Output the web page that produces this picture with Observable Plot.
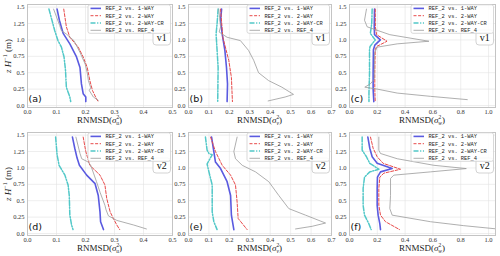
<!DOCTYPE html>
<html><head><meta charset="utf-8">
<script src="https://cdn.jsdelivr.net/npm/d3@7"></script>
<script src="https://cdn.jsdelivr.net/npm/@observablehq/plot@0.6"></script>
<style>
body{margin:0;background:#fff}
#wrap{position:relative;width:500px;height:256px;overflow:hidden;background:#fff}
#wrap svg{position:absolute}
</style></head><body><div id="wrap"></div>
<script>
// ---- labels ----
const seriesNames = ["REF_2 vs. 1-WAY","REF_2 vs. 2-WAY","REF_2 vs. 2-WAY-CR","REF_2 vs. REF_4"];
const panelLetters = ["(a)","(b)","(c)","(d)","(e)","(f)"];
const caseLabels = ["v1","v2"];
const xVarNames = ["u","v","w"];
const yTicks = [0,0.25,0.5,0.75,1.0,1.25,1.5];
const xTicksU = [0,0.1,0.2,0.3,0.4,0.5];
const xTicksV = [0,0.1,0.2,0.3,0.4,0.5,0.6,0.7];
const xTicksW = [0,0.2,0.4,0.6,0.8,1.0];

// ---- data: [RNMSD, z/H] ----
const a_1way = [[0.102,1.47],[0.110,1.30],[0.123,1.10],[0.146,0.94],[0.169,0.74],[0.181,0.58],[0.186,0.33],[0.192,0.18],[0.201,0.13],[0.201,0.06]];
const a_2way = [[0.125,1.47],[0.134,1.20],[0.146,1.04],[0.175,0.89],[0.192,0.74],[0.206,0.58],[0.215,0.38],[0.224,0.23],[0.238,0.10],[0.244,0.06]];
const a_cr   = [[0.074,1.47],[0.094,1.14],[0.105,0.99],[0.117,0.89],[0.126,0.74],[0.131,0.54],[0.134,0.28],[0.146,0.13],[0.149,0.06]];
const a_ref4 = [[0.090,1.47],[0.111,1.22],[0.117,1.14],[0.134,1.09],[0.160,0.99],[0.181,0.81],[0.199,0.63],[0.206,0.50],[0.210,0.38],[0.218,0.27],[0.213,0.23],[0.227,0.13],[0.244,0.08]];

const b_1way = [[0.162,1.47],[0.157,1.30],[0.165,1.09],[0.178,0.84],[0.186,0.58],[0.191,0.33],[0.189,0.06]];
const b_2way = [[0.157,1.47],[0.168,1.04],[0.197,0.69],[0.210,0.43],[0.215,0.06]];
const b_cr   = [[0.145,1.47],[0.140,1.25],[0.135,1.09],[0.140,0.84],[0.145,0.58],[0.143,0.06]];
const b_ref4 = [[0.148,1.47],[0.157,1.20],[0.150,1.12],[0.189,1.04],[0.254,0.99],[0.294,0.84],[0.319,0.69],[0.343,0.50],[0.392,0.38],[0.457,0.28],[0.514,0.17],[0.473,0.13],[0.390,0.07]];

const c_1way = [[0.180,1.47],[0.178,1.20],[0.180,1.08],[0.222,1.00],[0.182,0.92],[0.172,0.85],[0.170,0.50],[0.170,0.25],[0.175,0.06]];
const c_2way = [[0.185,1.47],[0.186,1.20],[0.195,1.08],[0.270,0.98],[0.195,0.90],[0.185,0.85],[0.182,0.50],[0.182,0.25],[0.185,0.06]];
const c_cr   = [[0.163,1.47],[0.160,1.25],[0.150,1.10],[0.185,1.00],[0.148,0.90],[0.144,0.85],[0.144,0.50],[0.140,0.20],[0.140,0.06]];
const c_ref4 = [[0.122,1.47],[0.108,1.30],[0.127,1.20],[0.290,1.08],[0.571,0.98],[0.343,0.94],[0.199,0.89],[0.180,0.80],[0.178,0.40],[0.150,0.33],[0.110,0.28],[0.200,0.25],[0.343,0.19],[0.583,0.14],[0.847,0.09]];

const d_1way = [[0.155,1.47],[0.163,1.30],[0.171,1.15],[0.179,1.04],[0.204,0.89],[0.233,0.76],[0.244,0.58],[0.250,0.33],[0.252,0.18],[0.262,0.06]];
const d_2way = [[0.192,1.47],[0.201,1.25],[0.215,1.04],[0.250,0.89],[0.267,0.74],[0.273,0.54],[0.285,0.33],[0.296,0.23],[0.308,0.13],[0.318,0.06]];
const d_cr   = [[0.097,1.47],[0.102,1.20],[0.109,1.04],[0.129,0.89],[0.140,0.74],[0.144,0.58],[0.146,0.28],[0.152,0.13],[0.157,0.06]];
const d_ref4 = [[0.167,1.47],[0.181,1.22],[0.187,1.14],[0.209,1.09],[0.218,1.04],[0.238,0.79],[0.250,0.63],[0.267,0.43],[0.271,0.36],[0.279,0.27],[0.308,0.20],[0.366,0.13],[0.410,0.07]];

const e_1way = [[0.113,1.47],[0.124,1.25],[0.132,1.09],[0.157,0.99],[0.189,0.79],[0.206,0.58],[0.210,0.28],[0.222,0.06]];
const e_2way = [[0.108,1.47],[0.132,1.25],[0.165,1.04],[0.206,0.89],[0.230,0.74],[0.238,0.48],[0.243,0.23],[0.287,0.06]];
const e_cr   = [[0.083,1.47],[0.091,1.27],[0.100,1.22],[0.116,1.20],[0.096,1.09],[0.091,1.06],[0.100,0.94],[0.116,0.74],[0.116,0.33],[0.124,0.18],[0.140,0.06]];
const e_ref4 = [[0.238,1.47],[0.222,1.25],[0.230,1.14],[0.263,1.04],[0.328,0.94],[0.393,0.79],[0.442,0.58],[0.491,0.38],[0.573,0.28],[0.671,0.16],[0.605,0.11],[0.524,0.07]];

const f_1way = [[0.132,1.47],[0.146,1.30],[0.163,1.17],[0.199,1.07],[0.307,0.99],[0.223,0.94],[0.201,0.86],[0.199,0.69],[0.199,0.43],[0.206,0.28],[0.218,0.15],[0.223,0.06]];
const f_2way = [[0.151,1.47],[0.170,1.30],[0.199,1.17],[0.242,1.07],[0.367,0.98],[0.247,0.92],[0.218,0.86],[0.211,0.69],[0.211,0.43],[0.223,0.28],[0.259,0.18],[0.360,0.06]];
const f_cr   = [[0.091,1.47],[0.091,1.27],[0.122,1.17],[0.146,1.07],[0.211,0.98],[0.146,0.94],[0.108,0.86],[0.098,0.69],[0.098,0.43],[0.108,0.28],[0.139,0.15],[0.156,0.06]];
const f_ref4 = [[0.211,1.47],[0.211,1.27],[0.223,1.22],[0.343,1.14],[0.607,1.04],[0.840,0.99],[0.583,0.94],[0.319,0.89],[0.295,0.84],[0.295,0.58],[0.290,0.38],[0.307,0.28],[0.583,0.18],[0.822,0.12],[1.060,0.07]];

const panelData = [
  [a_1way,a_2way,a_cr,a_ref4],[b_1way,b_2way,b_cr,b_ref4],[c_1way,c_2way,c_cr,c_ref4],
  [d_1way,d_2way,d_cr,d_ref4],[e_1way,e_2way,e_cr,e_ref4],[f_1way,f_2way,f_cr,f_ref4]
];

// ---- styles ----
const styles = [
  {stroke:"#5a5ae0", width:1.6, dash:null},
  {stroke:"#e84a4a", width:1.0, dash:"3,1.6"},
  {stroke:"#52c8c8", width:1.5, dash:"5,1.6,1.2,1.6"},
  {stroke:"#9a9a9a", width:0.8, dash:null}
];
const cols = [
  {left:27, right:172, domain:[0,0.5], ticks:xTicksU},
  {left:188, right:331, domain:[0,0.7], ticks:xTicksV},
  {left:349, right:495, domain:[0,1.05], ticks:xTicksW}
];
const ML = 27, MR = 3, ROWH = 128, MT = 4, MB = 21;
const yDomain = [-0.03, 1.54];
const wrap = document.getElementById("wrap");

const yFmt = d => (Math.round(d*100) % 50 === 0) ? d.toFixed(1) : d.toFixed(2);

for (let p = 0; p < 6; p++) {
  const row = Math.floor(p/3), col = cols[p%3];
  const W = ML + (col.right - col.left) + MR;
  const chart = Plot.plot({
    width: W, height: ROWH,
    marginLeft: ML, marginRight: MR, marginTop: MT, marginBottom: MB,
    style: {fontFamily:"Liberation Serif", fontSize:"6.5px", background:"transparent", overflow:"visible", color:"#333"},
    x: {domain: col.domain},
    y: {domain: yDomain},
    marks: [
      Plot.gridX(col.ticks, {stroke:"#e2e2e2", strokeOpacity:1, strokeWidth:0.6}),
      Plot.gridY(yTicks, {stroke:"#e2e2e2", strokeOpacity:1, strokeWidth:0.6}),
      Plot.frame({stroke:"#c4c4c4", strokeWidth:1}),
      Plot.axisX({ticks: col.ticks, tickSize:0, tickPadding:1.5, tickFormat: d => d.toFixed(1), label:null}),
      Plot.axisY({ticks: yTicks, tickSize:0, tickPadding:3, tickFormat: yFmt, label:null}),
      ...panelData[p].map((s,i) => Plot.line(s, {
        x: d => d[0], y: d => d[1], stroke: styles[i].stroke, strokeWidth: styles[i].width,
        strokeDasharray: styles[i].dash, clip: true
      }))
    ]
  });
  chart.style.left = (col.left - ML) + "px";
  chart.style.top = (row*ROWH) + "px";
  wrap.appendChild(chart);
}

// ---- overlay: labels, legends, tags ----
const ov = d3.select(wrap).append("svg").attr("width",500).attr("height",256)
  .style("left","0px").style("top","0px").style("pointer-events","none");

for (let row = 0; row < 2; row++) {
  const top = row*ROWH;
  // y label
  const yl = ov.append("text").attr("transform",`translate(10.5,${top+56}) rotate(-90)`)
    .attr("text-anchor","middle").attr("font-family","Liberation Serif").attr("font-size","9px").attr("fill","#222");
  yl.append("tspan").attr("font-style","italic").text("z");
  yl.append("tspan").text(" ");
  yl.append("tspan").attr("font-style","italic").text("H");
  yl.append("tspan").attr("font-size","6px").attr("dy","-3.5").text("−1");
  yl.append("tspan").attr("dy","3.5").text(" (m)");

  for (let c = 0; c < 3; c++) {
    const col = cols[c], p = row*3+c;
    // x label
    const cx = (col.left + col.right)/2;
    const xl = ov.append("text").attr("x",cx).attr("y",top+123).attr("text-anchor","middle")
      .attr("font-family","Liberation Serif").attr("font-size","9px").attr("fill","#222");
    xl.append("tspan").text("RNMSD(");
    xl.append("tspan").attr("font-style","italic").text("σ");
    xl.append("tspan").attr("font-size","5.5px").attr("dy","-3.6").text("2");
    xl.append("tspan").attr("font-size","5.5px").attr("font-style","italic").attr("dx","-2.8").attr("dy","6").text(xVarNames[c]);
    xl.append("tspan").attr("dy","-2.4").text(")");

    // panel letter
    ov.append("text").attr("x",col.left+1.5).attr("y",top+101.5)
      .attr("font-family","DejaVu Sans").attr("font-size","9.5px").attr("fill","#111").text(panelLetters[p]);

    // case tag box
    const bx = col.right - 19;
    ov.append("rect").attr("x",bx).attr("y",top+30).attr("width",17.5).attr("height",15).attr("rx",3)
      .attr("fill","#fff").attr("stroke","#c8c8c8").attr("stroke-width",0.8);
    ov.append("text").attr("x",bx+8.75).attr("y",top+41).attr("text-anchor","middle")
      .attr("font-family","Liberation Serif").attr("font-size","10px").attr("fill","#111").text(caseLabels[row]);

    // legend
    const L = col.right - 84, T = top + 4.8;
    ov.append("rect").attr("x",L).attr("y",T).attr("width",82.5).attr("height",28.5).attr("rx",2)
      .attr("fill","#fff").attr("fill-opacity",0.85).attr("stroke","#cfcfcf").attr("stroke-width",0.8);
    seriesNames.forEach((name,i) => {
      const yy = T + 3.6 + i*7.3;
      ov.append("line").attr("x1",L+2.5).attr("x2",L+13).attr("y1",yy).attr("y2",yy)
        .attr("stroke",styles[i].stroke).attr("stroke-width",styles[i].width)
        .attr("stroke-dasharray",styles[i].dash);
      ov.append("text").attr("x",L+17.5).attr("y",yy+1.8)
        .attr("font-family","Liberation Mono").attr("font-size","5.4px").attr("fill","#222").text(name);
    });
  }
}
</script></body></html>
